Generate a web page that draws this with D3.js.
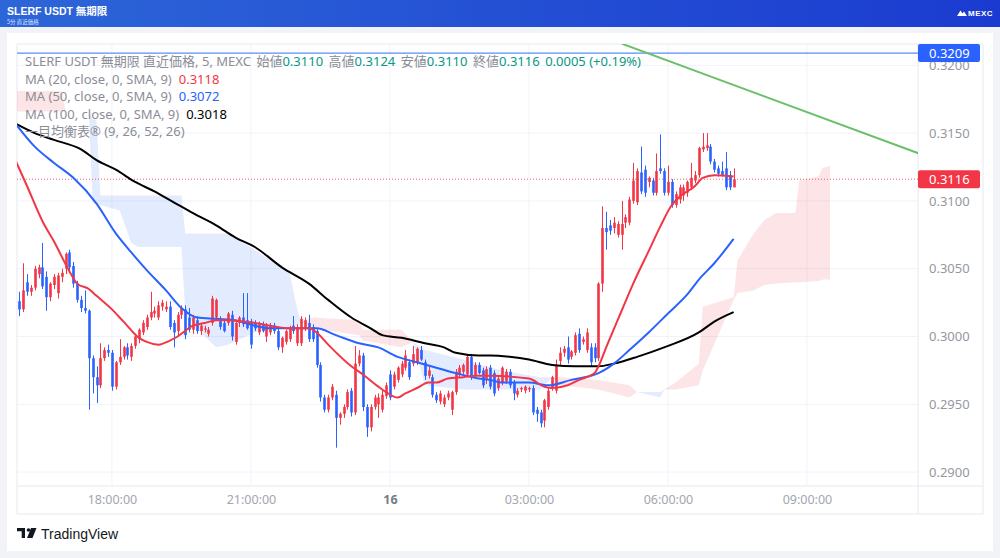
<!DOCTYPE html>
<html><head><meta charset="utf-8">
<script src="https://cdn.jsdelivr.net/npm/d3@7"></script>
<style>
html,body{margin:0;padding:0;background:#f1f3f7;}
svg{display:block;font-family:"Noto Sans","Noto Sans CJK JP",sans-serif;}
</style></head><body>
<svg id="c" width="1000" height="558"></svg>
<script>
// ---------------- DATA ----------------
const headerTitle = "SLERF USDT 無期限";
const headerSub = "5分   直近価格";
const legendSymbol = "SLERF USDT 無期限 直近価格, 5, MEXC";
const ohlcLabels = ["始値", "高値", "安値", "終値"];
const ohlcValues = ["0.3110", "0.3124", "0.3110", "0.3116"];
const changeText = "0.0005 (+0.19%)";
const maNames = ["MA (20, close, 0, SMA, 9)", "MA (50, close, 0, SMA, 9)", "MA (100, close, 0, SMA, 9)"];
const maLast = ["0.3118", "0.3072", "0.3018"];
const ichimokuName = "一目均衡表® (9, 26, 52, 26)";
const priceTicks = [0.2900, 0.2950, 0.3000, 0.3050, 0.3100, 0.3150, 0.3200];
const timeTickBars = [24, 60, 96, 132, 168, 204];
const timeTickLabels = ["18:00:00", "21:00:00", "16", "03:00:00", "06:00:00", "09:00:00"];
const lastPrice = 0.3116;
const alertPrice = 0.3209;
const trendLine = [[156, 0.3216], [233, 0.3135]];

// candles: [open, high, low, close], 5-minute bars from 16:00
const candles = [
[0.3026,0.3033,0.3015,0.3020],[0.3020,0.3054,0.3018,0.3034],[0.3040,0.3046,0.3030,0.3033],[0.3033,0.3038,0.3030,0.3036],
[0.3036,0.3052,0.3034,0.3050],[0.3046,0.3053,0.3043,0.3051],[0.3051,0.3069,0.3035,0.3037],[0.3044,0.3048,0.3019,0.3029],
[0.3029,0.3040,0.3026,0.3039],[0.3038,0.3046,0.3035,0.3044],[0.3032,0.3047,0.3028,0.3045],[0.3044,0.3050,0.3040,0.3047],
[0.3050,0.3062,0.3046,0.3061],[0.3062,0.3064,0.3048,0.3051],[0.3052,0.3055,0.3036,0.3039],[0.3039,0.3041,0.3025,0.3027],
[0.3027,0.3030,0.3018,0.3021],[0.3021,0.3034,0.3017,0.3019],[0.3019,0.3020,0.2946,0.2984],[0.2984,0.2986,0.2958,0.2970],
[0.2970,0.2978,0.2951,0.2964],[0.2964,0.2995,0.2962,0.2984],[0.2984,0.2992,0.2982,0.2990],[0.2990,0.2994,0.2985,0.2988],
[0.2988,0.2990,0.2960,0.2963],[0.2963,0.2982,0.2961,0.2981],[0.2981,0.2998,0.2979,0.2985],[0.2985,0.2993,0.2983,0.2992],
[0.2992,0.2995,0.2983,0.2986],[0.2985,0.2995,0.2982,0.2993],[0.2993,0.3002,0.2991,0.3000],[0.2998,0.3006,0.2995,0.3005],
[0.3003,0.3012,0.3001,0.3010],[0.3007,0.3016,0.3005,0.3014],[0.3014,0.3033,0.3012,0.3018],[0.3017,0.3022,0.3014,0.3019],
[0.3014,0.3026,0.3012,0.3023],[0.3022,0.3027,0.3019,0.3025],[0.3020,0.3026,0.3018,0.3022],[0.3022,0.3026,0.3005,0.3007],
[0.3010,0.3012,0.2992,0.3003],[0.3004,0.3018,0.3000,0.3016],[0.3016,0.3023,0.3013,0.3021],[0.3020,0.3023,0.2998,0.3001],
[0.3014,0.3021,0.3003,0.3005],[0.3005,0.3016,0.3002,0.3014],[0.3012,0.3015,0.3002,0.3004],[0.3004,0.3010,0.3001,0.3008],
[0.3005,0.3008,0.3003,0.3006],[0.3002,0.3007,0.3000,0.3005],[0.3010,0.3030,0.3008,0.3028],[0.3014,0.3028,0.3012,0.3027],
[0.3012,0.3015,0.3005,0.3007],[0.3010,0.3012,0.3003,0.3004],[0.3010,0.3018,0.3008,0.3017],[0.3016,0.3019,0.2997,0.3000],
[0.2996,0.3012,0.2994,0.3010],[0.3010,0.3015,0.3007,0.3014],[0.3014,0.3032,0.3007,0.3009],[0.3012,0.3032,0.3005,0.3006],
[0.3011,0.3013,0.2991,0.2994],[0.3010,0.3012,0.3004,0.3006],[0.3003,0.3011,0.3001,0.3009],[0.3009,0.3011,0.3003,0.3004],
[0.3000,0.3010,0.2996,0.3008],[0.3003,0.3010,0.3001,0.3008],[0.3008,0.3010,0.3002,0.3004],[0.3004,0.3006,0.2990,0.2992],
[0.2992,0.3000,0.2988,0.2999],[0.2996,0.3005,0.2994,0.3004],[0.2998,0.3008,0.2996,0.3006],[0.3008,0.3015,0.3002,0.3004],
[0.2995,0.3009,0.2993,0.3007],[0.2995,0.3015,0.2993,0.3013],[0.3006,0.3014,0.3004,0.3012],[0.3010,0.3016,0.2996,0.2998],
[0.3007,0.3009,0.2996,0.2998],[0.3004,0.3006,0.2977,0.2979],[0.2979,0.2981,0.2952,0.2955],[0.2955,0.2957,0.2944,0.2946],
[0.2946,0.2957,0.2944,0.2955],[0.2955,0.2965,0.2953,0.2963],[0.2957,0.2960,0.2918,0.2940],[0.2940,0.2944,0.2935,0.2943],
[0.2943,0.2950,0.2940,0.2948],[0.2948,0.2961,0.2946,0.2959],[0.2960,0.2962,0.2941,0.2944],[0.2944,0.2993,0.2942,0.2980],
[0.2980,0.2990,0.2978,0.2986],[0.2986,0.2988,0.2945,0.2948],[0.2948,0.2950,0.2926,0.2933],[0.2933,0.2950,0.2930,0.2948],
[0.2948,0.2957,0.2946,0.2955],[0.2950,0.2958,0.2940,0.2955],[0.2946,0.2960,0.2944,0.2957],[0.2956,0.2966,0.2954,0.2964],
[0.2972,0.2975,0.2953,0.2955],[0.2963,0.2974,0.2961,0.2972],[0.2968,0.2978,0.2966,0.2977],[0.2972,0.2982,0.2970,0.2980],
[0.2977,0.2990,0.2975,0.2986],[0.2981,0.2983,0.2968,0.2970],[0.2980,0.2993,0.2978,0.2987],[0.2981,0.2992,0.2979,0.2991],
[0.2990,0.2993,0.2982,0.2983],[0.2981,0.2983,0.2968,0.2971],[0.2971,0.2978,0.2969,0.2975],[0.2970,0.2972,0.2955,0.2957],
[0.2957,0.2959,0.2951,0.2953],[0.2952,0.2960,0.2950,0.2958],[0.2950,0.2957,0.2948,0.2955],[0.2955,0.2960,0.2953,0.2958],
[0.2946,0.2960,0.2942,0.2959],[0.2959,0.2976,0.2957,0.2974],[0.2972,0.2979,0.2970,0.2977],[0.2974,0.2980,0.2972,0.2979],
[0.2972,0.2987,0.2970,0.2985],[0.2985,0.2987,0.2968,0.2970],[0.2971,0.2981,0.2969,0.2979],[0.2979,0.2981,0.2972,0.2973],
[0.2975,0.2977,0.2962,0.2964],[0.2968,0.2978,0.2965,0.2976],[0.2977,0.2979,0.2961,0.2963],[0.2973,0.2975,0.2956,0.2958],
[0.2962,0.2971,0.2960,0.2969],[0.2966,0.2978,0.2964,0.2977],[0.2967,0.2976,0.2965,0.2974],[0.2974,0.2976,0.2962,0.2964],
[0.2966,0.2968,0.2953,0.2958],[0.2957,0.2962,0.2955,0.2960],[0.2961,0.2963,0.2959,0.2962],[0.2960,0.2964,0.2958,0.2963],
[0.2961,0.2963,0.2959,0.2962],[0.2962,0.2964,0.2942,0.2944],[0.2946,0.2948,0.2937,0.2943],[0.2944,0.2946,0.2933,0.2936],
[0.2938,0.2954,0.2933,0.2953],[0.2948,0.2962,0.2946,0.2960],[0.2962,0.2971,0.2960,0.2970],[0.2960,0.2983,0.2958,0.2979],
[0.2982,0.2992,0.2979,0.2988],[0.2988,0.2993,0.2985,0.2991],[0.2992,0.3000,0.2980,0.2983],[0.2985,0.2990,0.2983,0.2989],
[0.2988,0.3003,0.2986,0.3001],[0.3002,0.3006,0.2988,0.2990],[0.2996,0.3000,0.2994,0.2998],[0.2990,0.3006,0.2988,0.3003],
[0.2992,0.2995,0.2978,0.2981],[0.2992,0.2995,0.2981,0.2984],[0.2984,0.3040,0.2982,0.3039],[0.3039,0.3096,0.3033,0.3080],
[0.3080,0.3092,0.3064,0.3077],[0.3082,0.3086,0.3075,0.3078],[0.3080,0.3088,0.3076,0.3084],[0.3075,0.3085,0.3073,0.3083],
[0.3075,0.3100,0.3064,0.3083],[0.3084,0.3090,0.3080,0.3088],[0.3084,0.3103,0.3082,0.3101],[0.3100,0.3128,0.3098,0.3115],
[0.3099,0.3124,0.3097,0.3122],[0.3121,0.3140,0.3105,0.3107],[0.3123,0.3126,0.3103,0.3106],[0.3114,0.3118,0.3110,0.3117],
[0.3115,0.3117,0.3104,0.3106],[0.3106,0.3135,0.3104,0.3122],[0.3124,0.3149,0.3120,0.3122],[0.3122,0.3124,0.3104,0.3106],
[0.3106,0.3126,0.3104,0.3114],[0.3114,0.3116,0.3095,0.3097],[0.3097,0.3107,0.3095,0.3105],[0.3101,0.3112,0.3098,0.3110],
[0.3104,0.3112,0.3100,0.3110],[0.3106,0.3115,0.3103,0.3114],[0.3110,0.3128,0.3108,0.3117],[0.3115,0.3122,0.3113,0.3119],
[0.3119,0.3140,0.3117,0.3139],[0.3138,0.3150,0.3136,0.3140],[0.3139,0.3150,0.3137,0.3141],[0.3140,0.3142,0.3127,0.3129],
[0.3129,0.3131,0.3121,0.3123],[0.3124,0.3126,0.3118,0.3120],[0.3122,0.3129,0.3118,0.3119],[0.3124,0.3136,0.3108,0.3110],
[0.3119,0.3122,0.3108,0.3110],[0.3110,0.3124,0.3110,0.3116]
];

// moving averages: [bar index, value]
const ma20 = [[-1,0.3130],[2,0.3111],[6,0.3085],[9,0.3070],[13,0.3048],[15,0.3039],[18,0.3035],[20,0.3030],[24,0.3020],[27,0.3011],[31,0.2999],[33,0.2996],[36,0.2994],[39,0.2997],[41,0.3000],[45,0.3008],[48,0.3010],[51,0.3012],[54,0.3012],[58,0.3011],[61,0.3010],[65,0.3008],[70,0.3006],[75,0.3006],[77,0.3003],[80,0.2994],[86,0.2978],[89,0.2972],[93,0.2963],[95,0.2959],[98,0.2955],[100,0.2958],[103,0.2962],[106,0.2966],[108,0.2966],[111,0.2969],[115,0.2970],[118,0.2971],[122,0.2971],[132,0.2969],[136,0.2963],[138,0.2962],[142,0.2964],[145,0.2968],[149,0.2973],[150,0.2978],[152,0.2992],[156,0.3019],[159,0.3039],[163,0.3063],[166,0.3081],[169,0.3097],[171,0.3103],[175,0.3111],[177,0.3117],[180,0.3119],[185,0.3118]];
const ma50 = [[-1,0.3157],[4,0.3140],[9,0.3128],[14,0.3117],[20,0.3098],[25,0.3076],[29,0.3062],[33,0.3049],[38,0.3034],[42,0.3021],[46,0.3014],[51,0.3013],[56,0.3012],[61,0.3008],[65,0.3006],[70,0.3006],[77,0.3006],[82,0.3001],[88,0.2995],[93,0.2992],[98,0.2985],[103,0.2981],[108,0.2977],[113,0.2973],[119,0.2969],[122,0.2968],[125,0.2966],[132,0.2966],[137,0.2964],[143,0.2968],[148,0.2971],[150,0.2973],[154,0.2980],[158,0.2990],[163,0.3003],[168,0.3017],[173,0.3031],[176,0.3042],[180,0.3054],[185,0.3072]];
const ma100 = [[-1,0.3157],[4,0.3150],[9,0.3145],[16,0.3138],[20,0.3130],[25,0.3123],[30,0.3114],[35,0.3107],[40,0.3099],[45,0.3091],[51,0.3082],[56,0.3073],[61,0.3066],[68,0.3051],[75,0.3039],[80,0.3027],[86,0.3014],[91,0.3006],[94,0.3001],[99,0.2999],[105,0.2995],[110,0.2992],[113,0.2988],[119,0.2986],[122,0.2986],[127,0.2985],[132,0.2983],[138,0.2979],[144,0.2978],[150,0.2978],[154,0.2980],[160,0.2985],[167,0.2992],[176,0.3003],[180,0.3011],[185,0.3018]];

// Ichimoku cloud (leading spans, already shifted 26 bars forward)
const cloudBars = [-1,11,12,18,19,20,21,26,29,31,42,43,47,51,54,61,65,70,72,73,76,88,89,99,102,105,115,125,135,138,140,150,158,160,166,167,170,176,177,185,186,190,193,196,201,202,207,208,210];
const spanA = [0.3181,0.3181,0.3166,0.3166,0.3098,0.3098,0.3097,0.3093,0.3069,0.3066,0.3066,0.3017,0.3003,0.2992,0.2994,0.3003,0.3005,0.3007,0.3008,0.3011,0.3014,0.3012,0.3005,0.3005,0.2996,0.2964,0.2961,0.2961,0.2961,0.2970,0.2970,0.2968,0.2964,0.2959,0.2955,0.2961,0.2966,0.2980,0.3022,0.3029,0.3056,0.3075,0.3086,0.3091,0.3091,0.3115,0.3118,0.3124,0.3126];
const spanB = [0.3166,0.3166,0.3166,0.3166,0.3160,0.3160,0.3104,0.3104,0.3104,0.3104,0.3104,0.3076,0.3076,0.3076,0.3076,0.3064,0.3056,0.3047,0.3020,0.3011,0.3006,0.3001,0.2997,0.2992,0.2996,0.2990,0.2983,0.2975,0.2970,0.2970,0.2964,0.2961,0.2955,0.2959,0.2959,0.2961,0.2961,0.2964,0.2975,0.3027,0.3032,0.3034,0.3038,0.3039,0.3040,0.3040,0.3041,0.3042,0.3042];

// ---------------- DRAW ----------------
const W = 1000, H = 558;
const svg = d3.select("#c");
const paneL = 17, paneR = 918, paneT = 44, paneB = 486, axisR = 983, timeB = 514;
const x = d3.scaleLinear().domain([0, 185]).range([19.3, 733.6]);
const y = d3.scaleLinear().domain([0.29, 0.32]).range([472.1, 65.3]);
const UP = "#f23645", DOWN = "#2962ff";

const defs = svg.append("defs");
const g1 = defs.append("linearGradient").attr("id", "hdr").attr("x1", 0).attr("x2", 1).attr("y1", 0).attr("y2", 0);
g1.append("stop").attr("offset", "0%").attr("stop-color", "#2d66d8");
g1.append("stop").attr("offset", "100%").attr("stop-color", "#1b3bd0");
defs.append("clipPath").attr("id", "pane").append("rect")
  .attr("x", paneL).attr("y", paneT).attr("width", paneR - paneL).attr("height", paneB - paneT);

const cloudPts = cloudBars.map((b, k) => ({ i: b, a: spanA[k], b: spanB[k] }));
defs.append("clipPath").attr("id", "aboveB").append("path")
  .attr("d", d3.area().x(d => x(d.i)).y0(0).y1(d => y(d.b))(cloudPts));
defs.append("clipPath").attr("id", "belowB").append("path")
  .attr("d", d3.area().x(d => x(d.i)).y0(H).y1(d => y(d.b))(cloudPts));

svg.append("rect").attr("width", W).attr("height", H).attr("fill", "#f1f3f7");
svg.append("rect").attr("width", W).attr("height", 27).attr("fill", "url(#hdr)");
svg.append("text").attr("x", 7).attr("y", 15).attr("fill", "#fff").attr("font-size", 10.5).attr("font-weight", 700)
  .attr("font-family", "Liberation Sans, Noto Sans CJK JP, sans-serif").text(headerTitle);
svg.append("text").attr("x", 7).attr("y", 23.5).attr("fill", "#dfe6ff").attr("font-size", 5.5)
  .attr("font-family", "Noto Sans CJK JP, sans-serif").text(headerSub);
// MEXC logo
svg.append("path").attr("d", "M957,16 L960.5,10.5 L962.5,13.5 L964,11.5 L967,16 Z").attr("fill", "#fff");
svg.append("text").attr("x", 968).attr("y", 16).attr("fill", "#fff").attr("font-size", 8).attr("font-weight", 700)
  .attr("font-family", "Liberation Sans, sans-serif").attr("letter-spacing", 0.5).text("MEXC");

// card
svg.append("rect").attr("x", 7).attr("y", 33).attr("width", 986).attr("height", 518).attr("fill", "#fff");

// grid
const grid = svg.append("g");
grid.selectAll("line.h").data(priceTicks).join("line")
  .attr("x1", paneL).attr("x2", paneR).attr("y1", d => y(d)).attr("y2", d => y(d))
  .attr("stroke", "#f0f3fa").attr("stroke-width", 1);
grid.selectAll("line.v").data(timeTickBars).join("line")
  .attr("x1", d => x(d)).attr("x2", d => x(d)).attr("y1", paneT).attr("y2", paneB)
  .attr("stroke", "#f0f3fa").attr("stroke-width", 1);

// borders
const bc = "#e6e9ef";
svg.append("line").attr("x1", paneL).attr("x2", axisR).attr("y1", paneT).attr("y2", paneT).attr("stroke", bc);
svg.append("line").attr("x1", paneL).attr("x2", axisR).attr("y1", paneB).attr("y2", paneB).attr("stroke", bc);
svg.append("line").attr("x1", paneL).attr("x2", axisR).attr("y1", timeB).attr("y2", timeB).attr("stroke", bc);
svg.append("line").attr("x1", paneL).attr("x2", paneL).attr("y1", paneT).attr("y2", timeB).attr("stroke", bc);
svg.append("line").attr("x1", paneR).attr("x2", paneR).attr("y1", paneT).attr("y2", timeB).attr("stroke", bc);
svg.append("line").attr("x1", axisR).attr("x2", axisR).attr("y1", paneT).attr("y2", timeB).attr("stroke", bc);

const plot = svg.append("g").attr("clip-path", "url(#pane)");

// cloud: fill between the spans, red where span A is above span B, blue otherwise
const cloudArea = d3.area().x(d => x(d.i)).y0(d => y(d.b)).y1(d => y(d.a));
plot.append("g").attr("clip-path", "url(#aboveB)").append("path").datum(cloudPts)
  .attr("d", cloudArea).attr("fill", "rgba(242,54,69,0.13)");
plot.append("g").attr("clip-path", "url(#belowB)").append("path").datum(cloudPts)
  .attr("d", cloudArea).attr("fill", "rgba(41,98,255,0.13)");

// alert & last price lines
plot.append("line").attr("x1", paneL).attr("x2", paneR).attr("y1", y(alertPrice)).attr("y2", y(alertPrice))
  .attr("stroke", "#5b8cf5").attr("stroke-width", 1.3);
plot.append("line").attr("x1", paneL).attr("x2", paneR).attr("y1", y(lastPrice)).attr("y2", y(lastPrice))
  .attr("stroke", UP).attr("stroke-width", 1).attr("stroke-dasharray", "1,2").attr("opacity", 0.8);

// candles
const cg = plot.append("g");
const bw = 2.6;
candles.forEach((c, i) => {
  const [o, h, l, cl] = c;
  const col = cl >= o ? UP : DOWN;
  const cx = Math.round(x(i)) + 0.5;
  cg.append("line").attr("x1", cx).attr("x2", cx).attr("y1", y(h)).attr("y2", y(l)).attr("stroke", col).attr("stroke-width", 1);
  const top = y(Math.max(o, cl)), bot = y(Math.min(o, cl));
  cg.append("rect").attr("x", cx - bw / 2).attr("y", top).attr("width", bw).attr("height", Math.max(1, bot - top)).attr("fill", col);
});

// MAs
const line = d3.line().x(d => x(d[0])).y(d => y(d[1])).curve(d3.curveMonotoneX);
[[ma100, "#000000"], [ma50, DOWN], [ma20, UP]].forEach(([d, c]) => {
  plot.append("path").datum(d).attr("d", line).attr("fill", "none").attr("stroke", c).attr("stroke-width", 2);
});

// trend line
plot.append("line").attr("x1", x(trendLine[0][0])).attr("y1", y(trendLine[0][1]))
  .attr("x2", x(trendLine[1][0])).attr("y2", y(trendLine[1][1]))
  .attr("stroke", "#6abf69").attr("stroke-width", 2);

// legend
const lg = svg.append("g").attr("font-size", 13).attr("fill", "#8a8d96");
const LX = 25;
const r1 = lg.append("text").attr("x", LX).attr("y", 66);
r1.append("tspan").text(legendSymbol);
ohlcLabels.forEach((lab, k) => {
  r1.append("tspan").attr("dx", 5.5).text(lab);
  r1.append("tspan").attr("fill", "#089981").text(ohlcValues[k]);
});
r1.append("tspan").attr("dx", 5.5).attr("fill", "#089981").text(changeText);
const maCols = [UP, DOWN, "#000000"];
maNames.forEach((n, k) => {
  const t = lg.append("text").attr("x", LX).attr("y", 84 + k * 17.3);
  t.append("tspan").text(n);
  t.append("tspan").attr("dx", 7).attr("fill", maCols[k]).text(maLast[k]);
});
lg.append("text").attr("x", LX).attr("y", 136).text(ichimokuName);

// price axis
const pa = svg.append("g").attr("transform", `translate(${paneR},0)`)
  .call(d3.axisRight(y).tickValues(priceTicks).tickFormat(d3.format(".4f")).tickSize(0).tickPadding(11));
pa.select(".domain").remove();
pa.selectAll("text").attr("font-size", 13).attr("fill", "#9598a1").attr("font-family", "Noto Sans, sans-serif");

// price labels
function priceTag(v, col) {
  const g = svg.append("g");
  g.append("rect").attr("x", paneR).attr("y", y(v) - 9).attr("width", 62).attr("height", 18).attr("rx", 2).attr("fill", col);
  g.append("text").attr("x", paneR + 11).attr("y", y(v) + 4.5).attr("fill", "#fff").attr("font-size", 13).text(v.toFixed(4));
}
priceTag(alertPrice, DOWN);
priceTag(lastPrice, UP);

// time axis
const ta = svg.append("g").attr("transform", `translate(0,${paneB})`)
  .call(d3.axisBottom(x).tickValues(timeTickBars).tickFormat((d, k) => timeTickLabels[k]).tickSize(0).tickPadding(9));
ta.select(".domain").remove();
ta.selectAll("text").attr("font-size", 12.5).attr("font-family", "Noto Sans, sans-serif")
  .attr("font-weight", (d, k) => timeTickLabels[k] === "16" ? 700 : 400)
  .attr("fill", (d, k) => timeTickLabels[k] === "16" ? "#787b86" : "#a3a6af");

// TradingView logo
const tv = svg.append("g");
tv.append("path").attr("d", "M17,528 h8 v10 h-3.3 v-6.7 h-4.7 Z").attr("fill", "#131722");
tv.append("circle").attr("cx", 28.5).attr("cy", 530).attr("r", 1.8).attr("fill", "#131722");
tv.append("path").attr("d", "M31,528 h5.5 l-4,10 h-5.5 Z").attr("fill", "#131722");
tv.append("text").attr("x", 41).attr("y", 538.5).attr("font-size", 14).attr("fill", "#131722")
  .attr("font-family", "Liberation Sans, sans-serif").text("TradingView");
</script>
</body></html>
